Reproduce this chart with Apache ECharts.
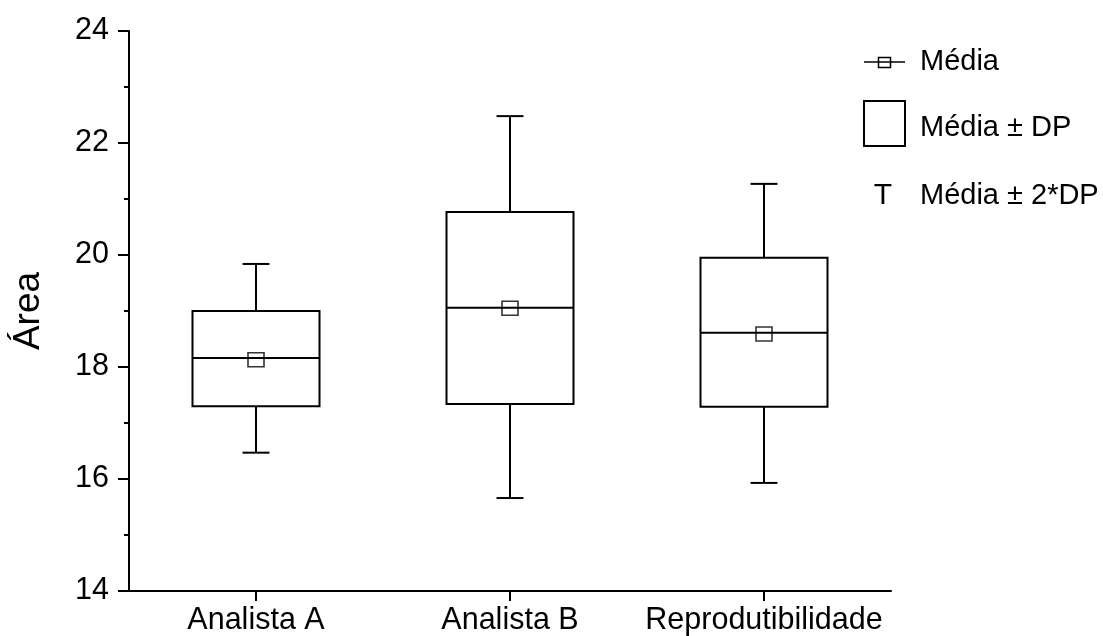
<!DOCTYPE html>
<html>
<head>
<meta charset="utf-8">
<title>Área</title>
<script src="https://cdn.jsdelivr.net/npm/echarts@6/dist/echarts.min.js"></script>
<style>
  html, body { margin: 0; padding: 0; background: #fff; }
  #chart { width: 1103px; height: 636px; }
</style>
</head>
<body>
<div id="chart"></div>
<script>
// Groups on the x axis
const categories = ['Analista A', 'Analista B', 'Reprodutibilidade'];
// Média ± 2*DP (whisker ends)
const whiskerLow  = [16.47, 15.66, 15.93];
const whiskerHigh = [19.84, 22.48, 21.27];
// Média ± DP (box edges)
const boxLow  = [17.30, 17.34, 17.29];
const boxHigh = [19.00, 20.77, 19.95];
// Centre line of each box
const centerLine = [18.16, 19.06, 18.61];
// Média (square marker)
const meanValues = [18.13, 19.05, 18.59];
// Value axis ticks
const yTicks = [14, 16, 18, 20, 22, 24];

const FONT = '"Liberation Sans", Arial, sans-serif';

const boxData = categories.map((c, i) => [i, whiskerLow[i], boxLow[i], centerLine[i], boxHigh[i], whiskerHigh[i]]);
const meanData = categories.map((c, i) => [i, meanValues[i]]);

function renderBox(params, api) {
  const i = api.value(0);
  const band = api.size([1, 0])[0];
  const boxHalf = band * 0.25;
  const capHalf = band * 0.053;
  const x = api.coord([i, 0])[0];
  const y = k => api.coord([i, api.value(k)])[1];
  const yWl = y(1), yBl = y(2), yC = y(3), yBh = y(4), yWh = y(5);
  const line = { stroke: '#000', lineWidth: 2, fill: null };
  return {
    type: 'group',
    children: [
      { type: 'line', shape: { x1: x, y1: yWh, x2: x, y2: yBh }, style: line },
      { type: 'line', shape: { x1: x, y1: yBl, x2: x, y2: yWl }, style: line },
      { type: 'line', shape: { x1: x - capHalf, y1: yWh, x2: x + capHalf, y2: yWh }, style: line },
      { type: 'line', shape: { x1: x - capHalf, y1: yWl, x2: x + capHalf, y2: yWl }, style: line },
      { type: 'rect', shape: { x: x - boxHalf, y: yBh, width: boxHalf * 2, height: yBl - yBh },
        style: { stroke: '#000', lineWidth: 2, fill: '#fff' } },
      { type: 'line', shape: { x1: x - boxHalf, y1: yC, x2: x + boxHalf, y2: yC }, style: line }
    ]
  };
}

const chart = echarts.init(document.getElementById('chart'), null, { renderer: 'canvas' });

// Legend drawn as graphic items to the right of the plot
const legendText = { fontFamily: FONT, fontSize: 29, fill: '#000', verticalAlign: 'middle', align: 'left' };
const legendGraphics = [
  { type: 'line', shape: { x1: 864, y1: 62, x2: 905, y2: 62 }, style: { stroke: '#000', lineWidth: 1.5 } },
  { type: 'rect', shape: { x: 878.5, y: 57.5, width: 12, height: 10 }, style: { stroke: '#000', lineWidth: 1.5, fill: null } },
  { type: 'text', x: 920, y: 62, style: Object.assign({ text: 'Média' }, legendText) },
  { type: 'rect', shape: { x: 864, y: 101, width: 41, height: 45 }, style: { stroke: '#000', lineWidth: 2, fill: '#fff' } },
  { type: 'text', x: 920, y: 128, style: Object.assign({ text: 'Média ± DP' }, legendText) },
  { type: 'text', x: 883, y: 196, style: Object.assign({}, legendText, { text: 'T', align: 'center', fontSize: 30 }) },
  { type: 'text', x: 920, y: 196, style: Object.assign({ text: 'Média ± 2*DP' }, legendText) }
];

chart.setOption({
  animation: false,
  backgroundColor: '#fff',
  grid: { left: 129, top: 31, width: 762, height: 560, containLabel: false },
  xAxis: {
    type: 'category',
    data: categories,
    boundaryGap: true,
    axisLine: { show: true, lineStyle: { color: '#000', width: 2 } },
    axisTick: { show: true, alignWithLabel: true, length: 10, lineStyle: { color: '#000', width: 2 } },
    axisLabel: { color: '#000', fontFamily: FONT, fontSize: 30.5, margin: 14, interval: 0 },
    splitLine: { show: false }
  },
  yAxis: {
    type: 'value',
    min: yTicks[0],
    max: yTicks[yTicks.length - 1],
    interval: 2,
    name: 'Área',
    nameLocation: 'middle',
    nameRotate: 90,
    nameGap: 82,
    nameTextStyle: { color: '#000', fontFamily: FONT, fontSize: 37 },
    axisLine: { show: true, lineStyle: { color: '#000', width: 2 } },
    axisTick: { show: true, length: 11, lineStyle: { color: '#000', width: 2 } },
    minorTick: { show: true, splitNumber: 2, length: 5, lineStyle: { color: '#000', width: 2 } },
    axisLabel: { color: '#000', fontFamily: FONT, fontSize: 30.5, margin: 20 },
    splitLine: { show: false },
    minorSplitLine: { show: false }
  },
  series: [
    {
      name: 'Média ± DP',
      type: 'custom',
      renderItem: renderBox,
      encode: { x: 0, y: [1, 2, 3, 4, 5] },
      data: boxData,
      z: 2
    },
    {
      name: 'Média',
      type: 'scatter',
      data: meanData,
      symbol: 'rect',
      symbolSize: [16, 14],
      itemStyle: { color: 'rgba(255,255,255,0)', borderColor: '#000', borderWidth: 1.5 },
      z: 3
    }
  ],
  graphic: legendGraphics
});
</script>
</body>
</html>
